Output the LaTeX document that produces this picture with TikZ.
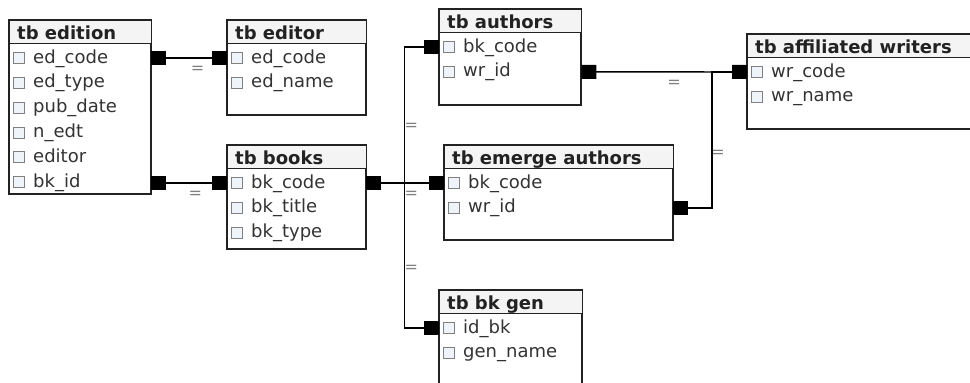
\documentclass[tikz,border=0pt]{standalone}
\usepackage{fontspec}
\setmainfont{DejaVu Sans}
\usetikzlibrary{arrows.meta,shadows}

\definecolor{headgray}{HTML}{F4F4F4}
\definecolor{rowtxt}{HTML}{333333}
\definecolor{boxline}{HTML}{222222}
\definecolor{chkfill}{HTML}{EEF4FA}

\tikzset{
  tblbox/.style={draw=boxline, line width=1.3pt, fill=white, anchor=north west,
    inner sep=0pt, drop shadow={opacity=0.3, shadow xshift=1.5pt, shadow yshift=-1.5pt}},
  tblline/.style={draw=boxline, line width=1.3pt},
  tbltitle/.style={anchor=base west, inner sep=0pt, text=boxline,
    font=\fontsize{18}{21}\selectfont\bfseries},
  rowtext/.style={anchor=west, inner sep=0pt, text=rowtxt, text height=13pt, text depth=3pt,
    font=\fontsize{18}{21}\selectfont},
  chkbox/.style={draw=gray, line width=0.7pt, fill=chkfill},
  fk/.style={line width=1.4pt, draw=black,
    {Square[length=15pt,width=14pt]}-{Square[length=15pt,width=14pt]}},
  eqlbl/.style={text=gray, inner sep=0pt, font=\fontsize{16}{16}\selectfont}
}

% a table: name, x, y, width, height, title
\newcommand{\dbtable}[6]{%
  \node[tblbox, minimum width=#4pt, minimum height=#5pt] (#1) at (#2,#3) {};
  \fill[headgray] (#1.north west) rectangle ([yshift=-23.5pt]#1.north east);
  \draw[tblline] ([yshift=-23.5pt]#1.north west) -- ([yshift=-23.5pt]#1.north east);
  \draw[tblline] (#1.north west) rectangle (#1.south east);
  \node[tbltitle] (#1-title) at ([xshift=8pt,yshift=-19pt]#1.north west) {#6};
}
% a row of a table: table, index, text
\newcommand{\dbrow}[3]{%
  \node[rowtext] (#1-#2) at ([xshift=24pt,yshift={-38pt-24.8pt*(#2-1)}]#1.north west) {#3};
  \draw[chkbox] ([xshift=-20pt,yshift=-5.5pt]#1-#2.west) rectangle ([xshift=-9pt,yshift=5.5pt]#1-#2.west);
}

\begin{document}
\begin{tikzpicture}[x=1pt,y=-1pt]
\useasboundingbox (0,0) rectangle (970,383);
\clip (0,0) rectangle (970,383);

% tables
\dbtable{edition}{9}{20}{141}{173}{tb edition}
\foreach \i/\t in {1/ed\_code, 2/ed\_type, 3/pub\_date, 4/n\_edt, 5/editor, 6/bk\_id}
  {\dbrow{edition}{\i}{\t}}

\dbtable{editor}{227}{20}{138}{94}{tb editor}
\foreach \i/\t in {1/ed\_code, 2/ed\_name}
  {\dbrow{editor}{\i}{\t}}

\dbtable{books}{227}{145}{138}{103}{tb books}
\foreach \i/\t in {1/bk\_code, 2/bk\_title, 3/bk\_type}
  {\dbrow{books}{\i}{\t}}

\dbtable{authors}{439}{9}{141}{95}{tb authors}
\foreach \i/\t in {1/bk\_code, 2/wr\_id}
  {\dbrow{authors}{\i}{\t}}

\dbtable{emerge}{444}{145}{228}{94}{tb emerge authors}
\foreach \i/\t in {1/bk\_code, 2/wr\_id}
  {\dbrow{emerge}{\i}{\t}}

\dbtable{affiliated}{747}{34}{240}{94}{tb affiliated writers}
\foreach \i/\t in {1/wr\_code, 2/wr\_name}
  {\dbrow{affiliated}{\i}{\t}}

\dbtable{bkgen}{439}{290}{142}{120}{tb bk gen}
\foreach \i/\t in {1/id\_bk, 2/gen\_name}
  {\dbrow{bkgen}{\i}{\t}}

% junction points
\path (books.east |- books-1) ++(38,0) coordinate (hub);
\path (affiliated.west |- affiliated-1) ++(-35,0) coordinate (join);

% relations
\draw[fk] (edition.east |- edition-1) -- node[eqlbl, pos=0.61, yshift=-12pt] {=} (editor.west |- editor-1);
\draw[fk] (edition.east |- books-1) -- node[eqlbl, pos=0.58, yshift=-12pt] {=} (books.west |- books-1);

\draw[fk] (books.east |- books-1) -- node[eqlbl, pos=0.58, yshift=-12pt] {=} (emerge.west |- emerge-1);
\draw[fk] (books.east |- books-1) -- (hub)
  -- node[eqlbl, pos=0.41, xshift=7pt] {=} (hub |- authors-1) -- (authors.west |- authors-1);
\draw[fk] (books.east |- books-1) -- (hub)
  -- node[eqlbl, pos=0.59, xshift=7pt] {=} (hub |- bkgen-1) -- (bkgen.west |- bkgen-1);

\draw[fk] (authors.east |- authors-2) -- node[eqlbl, pos=0.56, yshift=-12pt] {=} (affiliated.west |- affiliated-1);
\draw[fk] (emerge.east |- emerge-2) -- (join |- emerge-2)
  -- node[eqlbl, pos=0.4, xshift=6pt] {=} (join) -- (affiliated.west |- affiliated-1);

\end{tikzpicture}
\end{document}
